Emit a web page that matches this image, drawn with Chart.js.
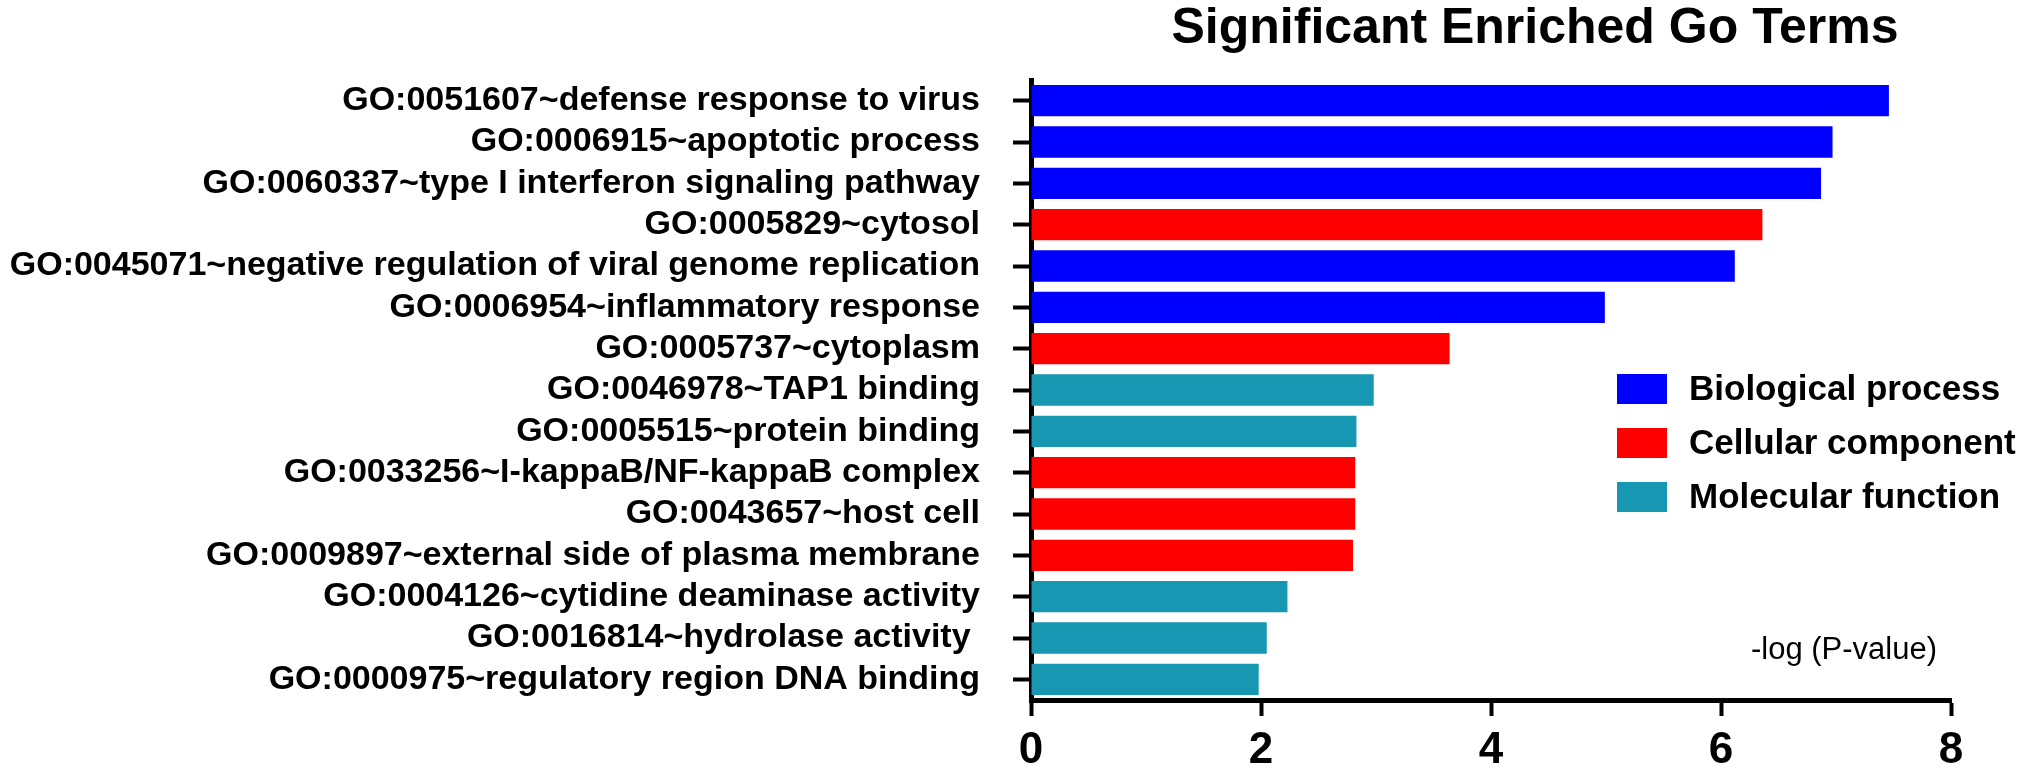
<!DOCTYPE html>
<html>
<head>
<meta charset="utf-8">
<title>Significant Enriched Go Terms</title>
<script src="https://cdn.jsdelivr.net/npm/chart.js@4.4.0/dist/chart.umd.min.js"></script>
<style>
  html, body { margin: 0; padding: 0; background: #fff; }
  #wrap { width: 2031px; height: 770px; }
</style>
</head>
<body>
<div id="wrap"><canvas id="goChart"></canvas></div>
<script>
// GO terms, top to bottom
const terms = [
  'GO:0051607~defense response to virus',
  'GO:0006915~apoptotic process',
  'GO:0060337~type I interferon signaling pathway',
  'GO:0005829~cytosol',
  'GO:0045071~negative regulation of viral genome replication',
  'GO:0006954~inflammatory response',
  'GO:0005737~cytoplasm',
  'GO:0046978~TAP1 binding',
  'GO:0005515~protein binding',
  'GO:0033256~I-kappaB/NF-kappaB complex',
  'GO:0043657~host cell',
  'GO:0009897~external side of plasma membrane',
  'GO:0004126~cytidine deaminase activity',
  'GO:0016814~hydrolase activity ',
  'GO:0000975~regulatory region DNA binding'
];
// -log(P-value)
const logP = [7.46, 6.97, 6.87, 6.36, 6.12, 4.99, 3.64, 2.98, 2.83, 2.82, 2.82, 2.80, 2.23, 2.05, 1.98];
// 0 = biological process, 1 = cellular component, 2 = molecular function
const termType = [0, 0, 0, 1, 0, 0, 1, 2, 2, 1, 1, 1, 2, 2, 2];
const typeNames = ['Biological process', 'Cellular component', 'Molecular function'];
const typeColors = ['#0000ff', '#ff0000', '#1797b1'];
const xTicks = [0, 2, 4, 6, 8];
const chartTitle = 'Significant Enriched Go Terms';
const xTitle = '-log (P-value)';

const FONT = '"Liberation Sans", Arial, Helvetica, sans-serif';
Chart.defaults.font.family = FONT;
Chart.defaults.color = '#000';

// title, legend and axis caption drawn on top of the plot
const extras = {
  id: 'extras',
  afterDraw(chart) {
    const { ctx, chartArea } = chart;
    ctx.save();
    ctx.fillStyle = '#000';
    ctx.textBaseline = 'middle';

    ctx.font = 'bold 50px ' + FONT;
    ctx.textAlign = 'center';
    ctx.fillText(chartTitle, chartArea.left + 504, 29);

    // legend
    ctx.font = 'bold 35px ' + FONT;
    ctx.textAlign = 'left';
    typeNames.forEach((name, i) => {
      const y = chartArea.top + 309 + i * 54;
      ctx.fillStyle = typeColors[i];
      ctx.fillRect(chartArea.left + 586, y - 15, 50, 30);
      ctx.fillStyle = '#000';
      ctx.fillText(name, chartArea.left + 658, y + 1);
    });

    // x axis caption inside the plot
    ctx.font = '31px ' + FONT;
    ctx.textAlign = 'right';
    ctx.fillText(xTitle, chartArea.right - 14, chartArea.bottom - 50);
    ctx.restore();
  }
};

const ctx = document.getElementById('goChart').getContext('2d');
const goChart = new Chart(ctx, {
  type: 'bar',
  data: {
    labels: terms,
    datasets: [{
      label: xTitle,
      data: logP,
      backgroundColor: termType.map(t => typeColors[t]),
      borderWidth: 0,
      barPercentage: 0.76,
      categoryPercentage: 1.0
    }]
  },
  options: {
    indexAxis: 'y',
    responsive: true,
    maintainAspectRatio: false,
    devicePixelRatio: 1,
    animation: false,
    layout: {
      padding: { left: 11, top: 80, right: 80, bottom: 0 }
    },
    plugins: {
      legend: { display: false },
      tooltip: { enabled: false },
      title: { display: false }
    },
    scales: {
      x: {
        min: 0,
        max: 8,
        afterBuildTicks: scale => { scale.ticks = xTicks.map(v => ({ value: v })); },
        afterFit: scale => { scale.height = 70; },
        ticks: {
          font: { size: 44, weight: 'bold' },
          color: '#000',
          padding: 8,
          maxRotation: 0
        },
        grid: {
          drawOnChartArea: false,
          color: '#000',
          tickLength: 16,
          tickWidth: 4
        },
        border: { display: true, color: '#000', width: 5 }
      },
      y: {
        afterFit: scale => { scale.width = 1020; },
        ticks: {
          font: { size: 34, weight: 'bold' },
          color: '#000',
          padding: 33,
          autoSkip: false
        },
        grid: {
          drawOnChartArea: false,
          offset: false,
          color: '#000',
          tickLength: 18,
          tickWidth: 4
        },
        border: { display: true, color: '#000', width: 5 }
      }
    }
  },
  plugins: [extras]
});
</script>
</body>
</html>
